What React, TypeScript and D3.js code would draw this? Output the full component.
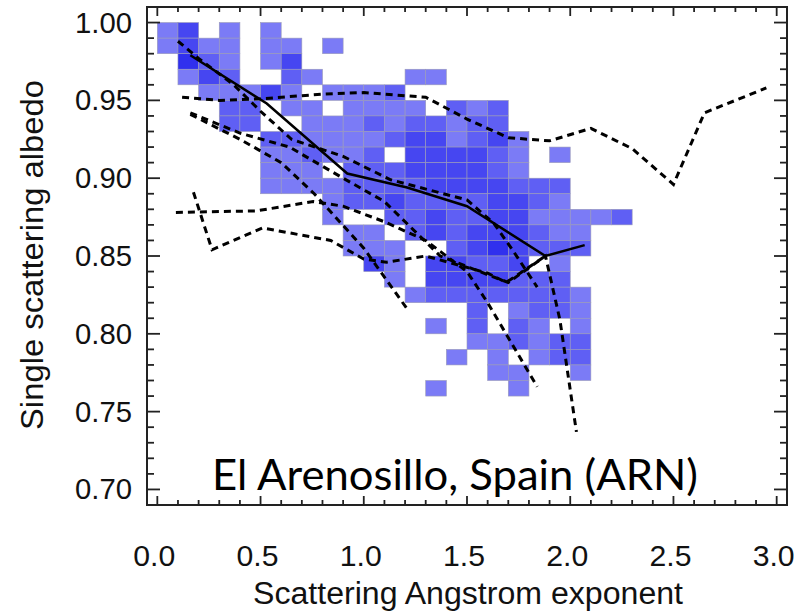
import React from "react";
import * as d3 from "d3";

// ---- data ----
const xTickValues = [0, 0.5, 1.0, 1.5, 2.0, 2.5, 3.0];
const yTickValues = [0.7, 0.75, 0.8, 0.85, 0.9, 0.95, 1.0];
const binWidthX = 0.1;
const binHeightY = 0.01;
const binTopY = 1.0;
// density levels per bin, rows from 1.00 downward, columns from 0.0 rightward (0 = empty)
const densityRows = [
  "130101000000000000000000",
  "131101101000000000000000",
  "042101300000000000000000",
  "013200210000110000000000",
  "001113101112000000000000",
  "000220110111102120000000",
  "000220011121221220000000",
  "000002211112331231000000",
  "000001121120333321010000",
  "000001110222333321000000",
  "000001111222233332220000",
  "000000001223222233210000",
  "000000001002232233111120",
  "000000000110232333211000",
  "000000000111002343222000",
  "000000000031033223010000",
  "000000000001033332220000",
  "000000000000122222221000",
  "000000000000000201221000",
  "000000000000010202101000",
  "000000000000000112122000",
  "000000000000001010122000",
  "000000000000000011001000",
  "000000000000010001000000",
];
const meanLine = [
  [0.16, 0.979], [0.53, 0.948], [0.92, 0.903], [1.21, 0.894], [1.5, 0.882], [1.88, 0.85], [2.07, 0.857],
];
const dashedA = [
  [0.12, 0.952], [0.3, 0.95], [0.5, 0.951], [0.8, 0.954], [1.0, 0.955], [1.3, 0.952], [1.5, 0.938],
  [1.7, 0.926], [1.9, 0.924], [2.1, 0.932], [2.3, 0.919], [2.5, 0.896], [2.65, 0.942], [2.95, 0.958],
];
const dashedB = [
  [0.1, 0.988], [0.2, 0.977], [0.37, 0.96], [0.5, 0.943], [0.65, 0.925], [0.9, 0.914], [1.13, 0.899],
  [1.5, 0.886], [1.63, 0.871], [1.72, 0.854], [1.84, 0.83],
];
const dashedC = [
  [0.16, 0.942], [0.4, 0.929], [0.64, 0.92], [0.9, 0.9], [1.1, 0.885], [1.37, 0.85], [1.6, 0.838],
  [1.7, 0.833], [1.88, 0.85], [1.95, 0.809], [2.03, 0.737],
];
const dashedD = [
  [0.16, 0.941], [0.4, 0.925], [0.6, 0.91], [0.76, 0.89], [1.0, 0.855], [1.21, 0.816],
];
const dashedE = [
  [0.09, 0.878], [0.48, 0.879], [0.755, 0.885], [0.9, 0.882], [1.1, 0.872], [1.3, 0.86], [1.5, 0.84],
  [1.6, 0.82], [1.84, 0.766],
];
const dashedF = [
  [0.175, 0.891], [0.265, 0.854], [0.51, 0.868], [0.84, 0.86], [1.0, 0.848], [1.11, 0.846], [1.3, 0.85],
  [1.6, 0.839], [1.69, 0.833], [1.88, 0.85],
];
const dashedSeries = [dashedA, dashedB, dashedC, dashedD, dashedE, dashedF];
const levelColors = ["none", "#7b7bf6", "#5f5ff4", "#4646f1", "#3030ee"];
const siteLabel = "El Arenosillo, Spain (ARN)";
const xTitle = "Scattering Angstrom exponent";
const yTitle = "Single scattering albedo";

export default function App() {
  const W = 802, H = 613;
  const left = 147, right = 787, top = 7, bottom = 505;
  const x = d3.scaleLinear().domain([-0.05, 3.05]).range([left, right]);
  const y = d3.scaleLinear().domain([0.69, 1.01]).range([bottom, top]);
  const line = d3.line<number[]>().x((d) => x(d[0])).y((d) => y(d[1]));

  const cells: { x0: number; x1: number; y0: number; y1: number; level: number }[] = [];
  densityRows.forEach((row, r) => {
    row.split("").forEach((ch, c) => {
      const level = +ch;
      if (level > 0) {
        cells.push({
          x0: x(c * binWidthX),
          x1: x((c + 1) * binWidthX),
          y0: y(binTopY - r * binHeightY),
          y1: y(binTopY - (r + 1) * binHeightY),
          level,
        });
      }
    });
  });

  const xMinor = d3.range(0, 31).map((i) => i / 10);
  const yMinor = d3.range(69, 102).map((i) => i / 100);
  const isMajorX = (v: number) => Math.abs(v * 2 - Math.round(v * 2)) < 1e-6;
  const isMajorY = (v: number) => Math.abs(v * 20 - Math.round(v * 20)) < 1e-6;
  const tickColor = "#222";

  return (
    <svg width={W} height={H} style={{ position: "absolute", left: 0, top: 0, background: "#fff" }}
      fontFamily="'Liberation Sans', Arial, sans-serif">
      <rect x={0} y={0} width={W} height={H} fill="#fff" />
      <g>
        {cells.map((c, i) => (
          <rect key={i} x={c.x0} y={c.y0} width={c.x1 - c.x0} height={c.y1 - c.y0}
            fill={levelColors[c.level]} stroke="#9a9ab8" strokeWidth={0.6} />
        ))}
      </g>
      <g fill="none" stroke="#000">
        {dashedSeries.map((s, i) => (
          <path key={i} d={line(s) || ""} strokeWidth={3} strokeDasharray="7,5" />
        ))}
        <path d={line(meanLine) || ""} strokeWidth={2.5} />
      </g>
      {/* ticks */}
      <g stroke={tickColor} strokeWidth={1.8}>
        {xMinor.map((v, i) => {
          const len = isMajorX(v) ? 9 : 5;
          return (
            <g key={i}>
              <line x1={x(v)} x2={x(v)} y1={bottom} y2={bottom - len} />
              <line x1={x(v)} x2={x(v)} y1={top} y2={top + len} />
            </g>
          );
        })}
        {yMinor.map((v, i) => {
          const len = isMajorY(v) ? 13 : 7;
          return (
            <g key={i}>
              <line x1={left} x2={left + len} y1={y(v)} y2={y(v)} />
              <line x1={right} x2={right - len} y1={y(v)} y2={y(v)} />
            </g>
          );
        })}
      </g>
      <rect x={left} y={top} width={right - left} height={bottom - top} fill="none" stroke="#222" strokeWidth={2} />
      {/* tick labels */}
      <g fontSize={29} fill="#111">
        {yTickValues.map((v, i) => (
          <text key={i} x={132} y={y(v) + 10} textAnchor="end" textLength={57} lengthAdjust="spacingAndGlyphs">{v.toFixed(2)}</text>
        ))}
        {xTickValues.map((v, i) => (
          <text key={i} x={x(v) - 3} y={566} textAnchor="middle" textLength={42} lengthAdjust="spacingAndGlyphs">{v.toFixed(1)}</text>
        ))}
      </g>
      <text x={468} y={604} textAnchor="middle" fontSize={31} fill="#111" textLength={430} lengthAdjust="spacingAndGlyphs">{xTitle}</text>
      <text transform={`translate(43,255) rotate(-90)`} textAnchor="middle" fontSize={31} fill="#111" textLength={350} lengthAdjust="spacingAndGlyphs">{yTitle}</text>
      <text x={212} y={490} fontFamily="Lato, 'Open Sans', sans-serif" fontSize={42} fill="#000"
        textLength={486} lengthAdjust="spacingAndGlyphs">{siteLabel}</text>
    </svg>
  );
}
